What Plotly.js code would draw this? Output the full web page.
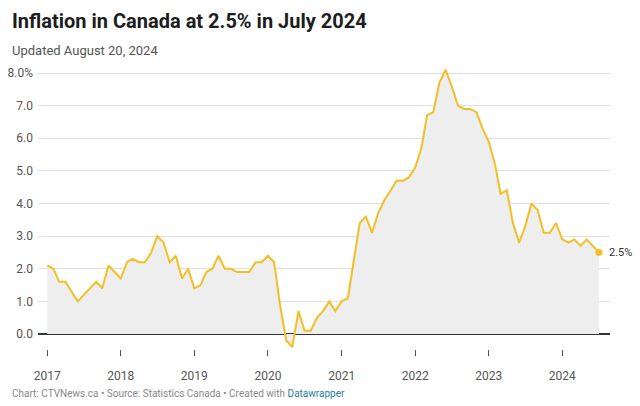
<!DOCTYPE html>
<html><head><meta charset="utf-8">
<script src="https://cdn.plot.ly/plotly-3.0.1.min.js"></script>
<style>html,body{margin:0;padding:0;background:#fff;}#chart{width:640px;height:406px;}</style>
</head><body><div id="chart"></div>
<script>
const startYear = 2017;
const startMonth = 1;
const inflation = [
  2.1, 2.0, 1.6, 1.6, 1.3, 1.0, 1.2, 1.4, 1.6, 1.4, 2.1, 1.9,
  1.7, 2.2, 2.3, 2.2, 2.2, 2.5, 3.0, 2.8, 2.2, 2.4, 1.7, 2.0,
  1.4, 1.5, 1.9, 2.0, 2.4, 2.0, 2.0, 1.9, 1.9, 1.9, 2.2, 2.2,
  2.4, 2.2, 0.9, -0.2, -0.4, 0.7, 0.1, 0.1, 0.5, 0.7, 1.0, 0.7,
  1.0, 1.1, 2.2, 3.4, 3.6, 3.1, 3.7, 4.1, 4.4, 4.7, 4.7, 4.8,
  5.1, 5.7, 6.7, 6.8, 7.7, 8.1, 7.6, 7.0, 6.9, 6.9, 6.8, 6.3,
  5.9, 5.2, 4.3, 4.4, 3.4, 2.8, 3.3, 4.0, 3.8, 3.1, 3.1, 3.4,
  2.9, 2.8, 2.9, 2.7, 2.9, 2.7, 2.5
];
const yearTicks = ['2017','2018','2019','2020','2021','2022','2023','2024'];
const yTickVals = [0, 1, 2, 3, 4, 5, 6, 7, 8];
const yTickText = ['0.0','1.0','2.0','3.0','4.0','5.0','6.0','7.0','8.0%'];

const dates = inflation.map((v, i) => {
  const m = startMonth - 1 + i;
  const y = startYear + Math.floor(m / 12);
  const mm = String(m % 12 + 1).padStart(2, '0');
  return y + '-' + mm + '-01';
});
const lastX = dates[dates.length - 1];
const lastY = inflation[inflation.length - 1];
const lineColor = '#f2bf26';

const traces = [
  {x: dates, y: inflation, type: 'scatter', mode: 'lines', fill: 'tozeroy',
   fillcolor: '#eeeeee', line: {color: lineColor, width: 2}, hoverinfo: 'skip'},
  {x: [lastX], y: [lastY], type: 'scatter', mode: 'markers',
   marker: {color: lineColor, size: 7}, hoverinfo: 'skip'}
];

const layout = {
  width: 640, height: 406,
  margin: {l: 38, r: 30, t: 66, b: 57},
  paper_bgcolor: '#fff', plot_bgcolor: '#fff',
  showlegend: false,
  font: {family: 'Roboto, sans-serif', color: '#555'},
  xaxis: {
    type: 'date', range: ['2016-11-16', '2024-08-25'],
    tickvals: yearTicks.map(y => y + '-01-01'), ticktext: yearTicks,
    showgrid: false, zeroline: false, showline: false,
    ticks: 'outside', ticklen: 6, tickwidth: 1, tickcolor: '#555',
    tickfont: {size: 12, color: '#555'}, ticklabelstandoff: 10
  },
  yaxis: {
    range: [-0.46, 8.215], tickvals: yTickVals, ticktext: yTickText,
    showgrid: true, gridcolor: '#e0e0e0', gridwidth: 1,
    zeroline: true, zerolinecolor: '#333', zerolinewidth: 1.5,
    showline: false, ticks: '', tickfont: {size: 12, color: '#555'},
    ticklabelstandoff: 4
  },
  annotations: [
    {xref: 'x', yref: 'y', x: lastX, y: lastY, xanchor: 'left', yanchor: 'middle',
     xshift: 8, showarrow: false, text: lastY.toFixed(1) + '%', font: {size: 11, color: '#333'}}
  ]
};

const pageAnn = [
  {text: '<b>Inflation in Canada at 2.5% in July 2024</b>', x: 10, y: 21, size: 20, color: '#1d1d1d'},
  {text: 'Updated August 20, 2024', x: 10, y: 50, size: 13, color: '#555'},
  {text: 'Chart: CTVNews.ca • Source: Statistics Canada • Created with <span style="color:#1d81a2">Datawrapper</span>', x: 10, y: 393, size: 10, color: '#888'}
];
pageAnn.forEach(a => layout.annotations.push({
  xref: 'paper', yref: 'paper',
  x: (a.x - 38) / (640 - 38 - 30), y: 1 - (a.y - 66) / (406 - 66 - 57),
  xanchor: 'left', yanchor: 'middle', showarrow: false, align: 'left',
  text: a.text, font: {size: a.size, color: a.color, family: 'Roboto, sans-serif'}
}));

Plotly.newPlot('chart', traces, layout, {staticPlot: true, displayModeBar: false});
</script></body></html>
